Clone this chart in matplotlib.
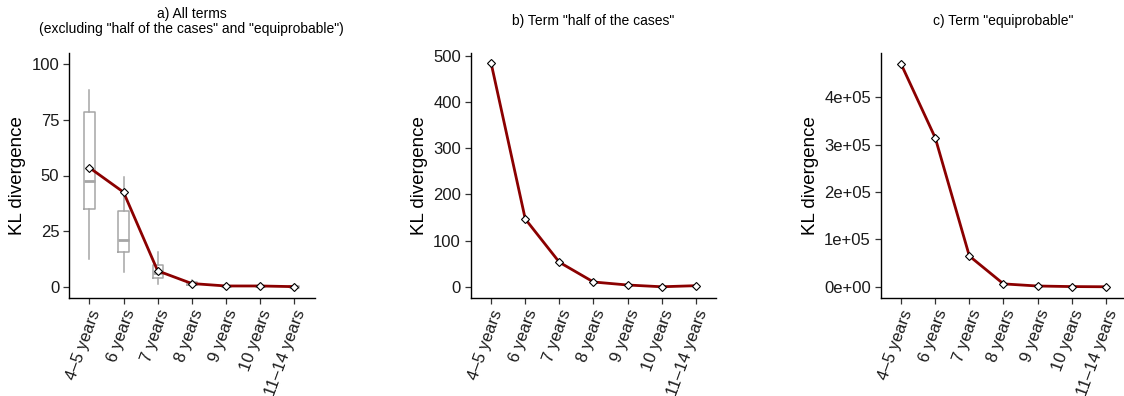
import matplotlib
matplotlib.use("Agg")
import matplotlib.pyplot as plt

plt.rcParams['font.family'] = ['Liberation Sans', 'DejaVu Sans']

categories = ["4\u20135 years", "6 years", "7 years", "8 years", "9 years", "10 years", "11\u201314 years"]

# Panel a: mean KL divergence (all terms) and box statistics
mean_a = [53.5, 42.5, 7.2, 1.5, 0.4, 0.4, 0.1]
box_whislo = [12.4, 6.6, 1.2, 0.2, 0.0, 0.0, 0.0]
box_q1 = [35.1, 15.7, 4.2, 0.8, 0.2, 0.2, 0.05]
box_med = [47.7, 21.1, 6.1, 1.2, 0.35, 0.35, 0.1]
box_q3 = [78.3, 34.2, 9.7, 2.0, 0.6, 0.6, 0.2]
box_whishi = [88.3, 49.2, 15.8, 3.0, 1.0, 1.0, 0.4]

# Panel b: term "half of the cases"
kl_half = [483.5, 147.0, 53.5, 10.8, 4.3, 0.5, 2.8]

# Panel c: term "equiprobable"
kl_equi = [470000, 314500, 65100, 6300, 1800, 600, 200]

titles = ['a) All terms\n(excluding "half of the cases" and "equiprobable")',
          'b) Term "half of the cases"',
          'c) Term "equiprobable"']

yticks_a = [0, 25, 50, 75, 100]
yticks_b = [0, 100, 200, 300, 400, 500]
yticks_c = [0, 100000, 200000, 300000, 400000]
yticklabels_c = ["0e+00", "1e+05", "2e+05", "3e+05", "4e+05"]

W, H = 1124, 396
fig = plt.figure(figsize=(W / 100, H / 100), dpi=100)

lefts = [69, 470.7, 880.7]
ax_w = 245.5
top_px, bot_px = 53, 298

line_col = "#8B0000"
box_col = "#A6A6A6"

axes = []
for l in lefts:
    ax = fig.add_axes([l / W, 1 - bot_px / H, ax_w / W, (bot_px - top_px) / H])
    axes.append(ax)

x = list(range(1, len(categories) + 1))

def style(ax, title, yticks, yticklabels=None, title_pad=6):
    for s in ["top", "right"]:
        ax.spines[s].set_visible(False)
    for s in ["left", "bottom"]:
        ax.spines[s].set_linewidth(1.0)
        ax.spines[s].set_color("black")
    ax.set_xlim(0.4, len(categories) + 0.6)
    ax.set_xticks(x)
    ax.set_xticklabels(categories, rotation=70, ha="right", va="top",
                       rotation_mode="anchor", fontsize=12, color="#1a1a1a")
    ax.set_yticks(yticks)
    if yticklabels is not None:
        ax.set_yticklabels(yticklabels)
    ax.tick_params(axis="both", length=4, width=0.9, color="#333333", labelsize=12,
                   labelcolor="#1a1a1a", pad=3)
    ax.set_ylabel("KL divergence", fontsize=13.5, labelpad=4)
    ax.set_title(title, fontsize=10.0, pad=title_pad, linespacing=1.1)

# Panel a
ax = axes[0]
stats = []
for i in range(len(categories)):
    stats.append(dict(med=box_med[i], q1=box_q1[i], q3=box_q3[i],
                      whislo=box_whislo[i], whishi=box_whishi[i], fliers=[]))
ax.bxp(stats, positions=x, widths=0.3, showfliers=False, showcaps=False,
       boxprops=dict(color=box_col, linewidth=1.1),
       whiskerprops=dict(color=box_col, linewidth=1.1),
       medianprops=dict(color=box_col, linewidth=2.0))
ax.plot(x, mean_a, color=line_col, linewidth=2.0, zorder=3)
ax.plot(x, mean_a, linestyle="none", marker="D", markersize=4.5,
        markerfacecolor="white", markeredgecolor="black", markeredgewidth=0.8, zorder=4)
ax.set_ylim(-5, 105)
style(ax, titles[0], yticks_a, title_pad=14.5)

# Panel b
ax = axes[1]
ax.plot(x, kl_half, color=line_col, linewidth=2.0, zorder=3)
ax.plot(x, kl_half, linestyle="none", marker="D", markersize=4.5,
        markerfacecolor="white", markeredgecolor="black", markeredgewidth=0.8, zorder=4)
ax.set_ylim(-23.8, 505.7)
style(ax, titles[1], yticks_b, title_pad=20)

# Panel c
ax = axes[2]
ax.plot(x, kl_equi, color=line_col, linewidth=2.0, zorder=3)
ax.plot(x, kl_equi, linestyle="none", marker="D", markersize=4.5,
        markerfacecolor="white", markeredgecolor="black", markeredgewidth=0.8, zorder=4)
ax.set_ylim(-23500, 493500)
style(ax, titles[2], yticks_c, yticklabels_c, title_pad=20)

fig.savefig("out.png", dpi=100, facecolor="white")
